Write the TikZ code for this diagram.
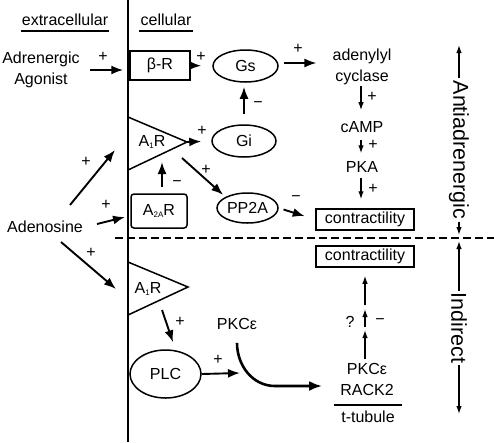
\documentclass[tikz,border=0pt]{standalone}
\usepackage{fontspec}
\setmainfont{Liberation Sans}
\usetikzlibrary{shapes.geometric,arrows.meta}
\newcommand{\lowsub}[1]{\raisebox{-2pt}{\fontsize{8}{8}\selectfont #1}}

\begin{document}
\begin{tikzpicture}[x=1pt,y=-1pt,
	every node/.style={font=\fontsize{16}{21}\selectfont, inner sep=1pt},
	oval/.style={draw, ellipse, line width=1.5pt, inner sep=0pt},
	box/.style={draw, rectangle, line width=1.5pt, inner sep=0pt},
	conn/.style={line width=1.9pt, -{Latex[length=12pt,width=9pt]}},
	sconn/.style={line width=1.3pt, -{Latex[length=8pt,width=5.5pt]}},
	sgn/.style={inner sep=0pt},
	side/.style={font=\fontsize{21.5}{25}\selectfont, rotate=-90, inner sep=2pt}]
	\useasboundingbox (0,0) rectangle (494,442);
	% membrane and border between the two pathways
	\draw[line width=1.8pt] (128,0) -- (128,442);
	\draw[line width=1.8pt, dash pattern=on 8pt off 4pt] (115,238) -- (494,238);
	% headings
	\node (extra) at (65,20) {extracellular};
	\node (cell) at (166,20) {cellular};
	\draw[line width=1.2pt] ([yshift=-4pt]extra.south west) -- ([yshift=-4pt]extra.south east);
	\draw[line width=1.2pt] ([yshift=-4pt]cell.south west) -- ([yshift=-4pt]cell.south east);
	% nodes
	\node[align=center] (agonist) at (41,70) {Adrenergic\\Agonist};
	\node[box, minimum width=60pt, minimum height=29pt] (betaR) at (160,65.5) {β-R};
	\node[oval, minimum width=65pt, minimum height=32pt] (gs) at (245.5,66) {Gs};
	\node[align=center] (cyc) at (362,67) {adenylyl\\cyclase};
	\node (camp) at (362,127) {cAMP};
	\node (pka) at (362,167) {PKA};
	\node[box, minimum width=98pt, minimum height=21pt] (con1) at (365,219.5) {contractility};
	\node[box, minimum width=98pt, minimum height=21pt] (con2) at (365,256.5) {contractility};
	\node[align=center] (rack) at (367,379.5) {PKCε\\RACK2};
	\node (ttub) at (368,417) {t-tubule};
	\draw[line width=1.3pt] ([shift={(-6,-5)}]ttub.north west) -- ([shift={(6,-5)}]ttub.north east);
	\node (adeno) at (45,227) {Adenosine};
	\node (a1up) at (152,142) {A\lowsub{1}R};
	\node[box, rounded corners=3pt, minimum width=56pt, minimum height=34pt] (a2a) at (159,211) {A\lowsub{2A}R};
	\node[oval, minimum width=64pt, minimum height=32pt] (gi) at (244,141) {Gi};
	\node[oval, minimum width=61pt, minimum height=30pt] (pp2a) at (247.5,208) {PP2A};
	\node (a1dn) at (148,289) {A\lowsub{1}R};
	\node[oval, minimum width=71pt, minimum height=48pt] (plc) at (165.5,374) {PLC};
	\node (pkce) at (237,324) {PKCε};
	\node[side] (anti) at (459,150) {Antiadrenergic};
	\node[side] (indir) at (459,328) {Indirect};
	% receptor triangles
	\draw[line width=1.5pt] (128,117) -- (187,142) -- (128,170);
	\draw[line width=1.5pt] (128,262) -- (188,287) -- (128,315);
	\coordinate (tipup) at (187,142);
	\coordinate (a1out) at (182,158);
	\coordinate (a1in) at (162,162);
	\coordinate (a1dnout) at (162,310);
	\coordinate (adup) at (115,150);
	\coordinate (admid) at (125,217);
	\coordinate (addn) at (116,289);
	\coordinate (pkcin) at (240,373);
	\coordinate (q1) at (365,328);
	\coordinate (q2) at (365,307);
	\coordinate (antitop) at (459,45);
	\coordinate (antibot) at (459,235);
	\coordinate (indtop) at (459,241);
	\coordinate (indbot) at (459,414);
	% connectors
	\draw[conn, shorten <=9pt, shorten >=6pt] (agonist.east) -- (agonist.east -| betaR.west);
	\draw[conn, shorten >=11pt] (betaR.east) -- (gs.west);
	\draw[conn, shorten <=5pt, shorten >=15pt] ([yshift=3pt]gs.east) -- ([yshift=3pt]gs.east -| cyc.west);
	\draw[sconn, shorten >=10pt] ([xshift=-1pt]cyc.south) -- ([xshift=-1pt]camp.north);
	\draw[sconn, shorten <=6pt, shorten >=7pt] ([xshift=-1pt]camp.south) -- ([xshift=-1pt]pka.north);
	\draw[sconn, shorten <=4pt, shorten >=9pt] ([xshift=-1pt]pka.south) -- ([xshift=-1pt]pka.south |- con1.north);
	\draw[conn, shorten <=10pt, shorten >=4pt] (gi.north) -- (gi.north |- gs.south);
	\draw[conn, shorten >=10pt] (tipup) -- (gi.west);
	\draw[conn, shorten >=3pt] (a1out) -- (pp2a.north west);
	\draw[conn, shorten <=6pt] (a2a.north -| a1in) -- (a1in);
	\draw[conn, shorten <=5pt, shorten >=11pt] (pp2a.east) -- (con1.west);
	\draw[conn] ([shift={(25,-22)}]adeno.center) -- (adup);
	\draw[conn] ([shift={(52,-3)}]adeno.center) -- (admid);
	\draw[conn] ([shift={(16,15)}]adeno.center) -- (addn);
	\draw[conn] (a1dnout) -- ([shift={(7.5,-7)}]plc.north);
	\draw[conn] (plc.east) -- (pkcin);
	\draw[line width=2.6pt, -{Latex[length=13pt,width=10pt]}, shorten >=17pt] ([yshift=-12pt]pkce.south) to[out=-90, in=180] (275,386) -- ([yshift=-6.5pt]rack.west);
	\draw[sconn, shorten <=3pt, shorten >=2pt] (rack.north -| q1) -- (q1);
	\draw[sconn, shorten <=1pt, shorten >=2pt] (q1) -- (q2);
	\draw[sconn, shorten <=2pt, shorten >=8pt] (q2) -- (q2 |- con2.south);
	\draw[sconn] (anti.west) -- (antitop);
	\draw[sconn] (anti.east) -- (antibot);
	\draw[sconn] (indir.west) -- (indtop);
	\draw[sconn] (indir.east) -- (indbot);
	% signs
	\foreach \x/\y [count=\i] in {103/57, 201/57, 298/49, 372/97, 373/145, 373/189, 202/131, 206/170, 86/162, 106/205, 91/253, 180/322, 218/360}
		\node[sgn] (plus\i) at (\x,\y) {+};
	\foreach \x/\y [count=\i] in {258/105, 296/199, 177/184, 380/322}
		\node[sgn] (minus\i) at (\x,\y) {−};
	\node[sgn] (qm) at (350,322) {?};
\end{tikzpicture}
\end{document}
